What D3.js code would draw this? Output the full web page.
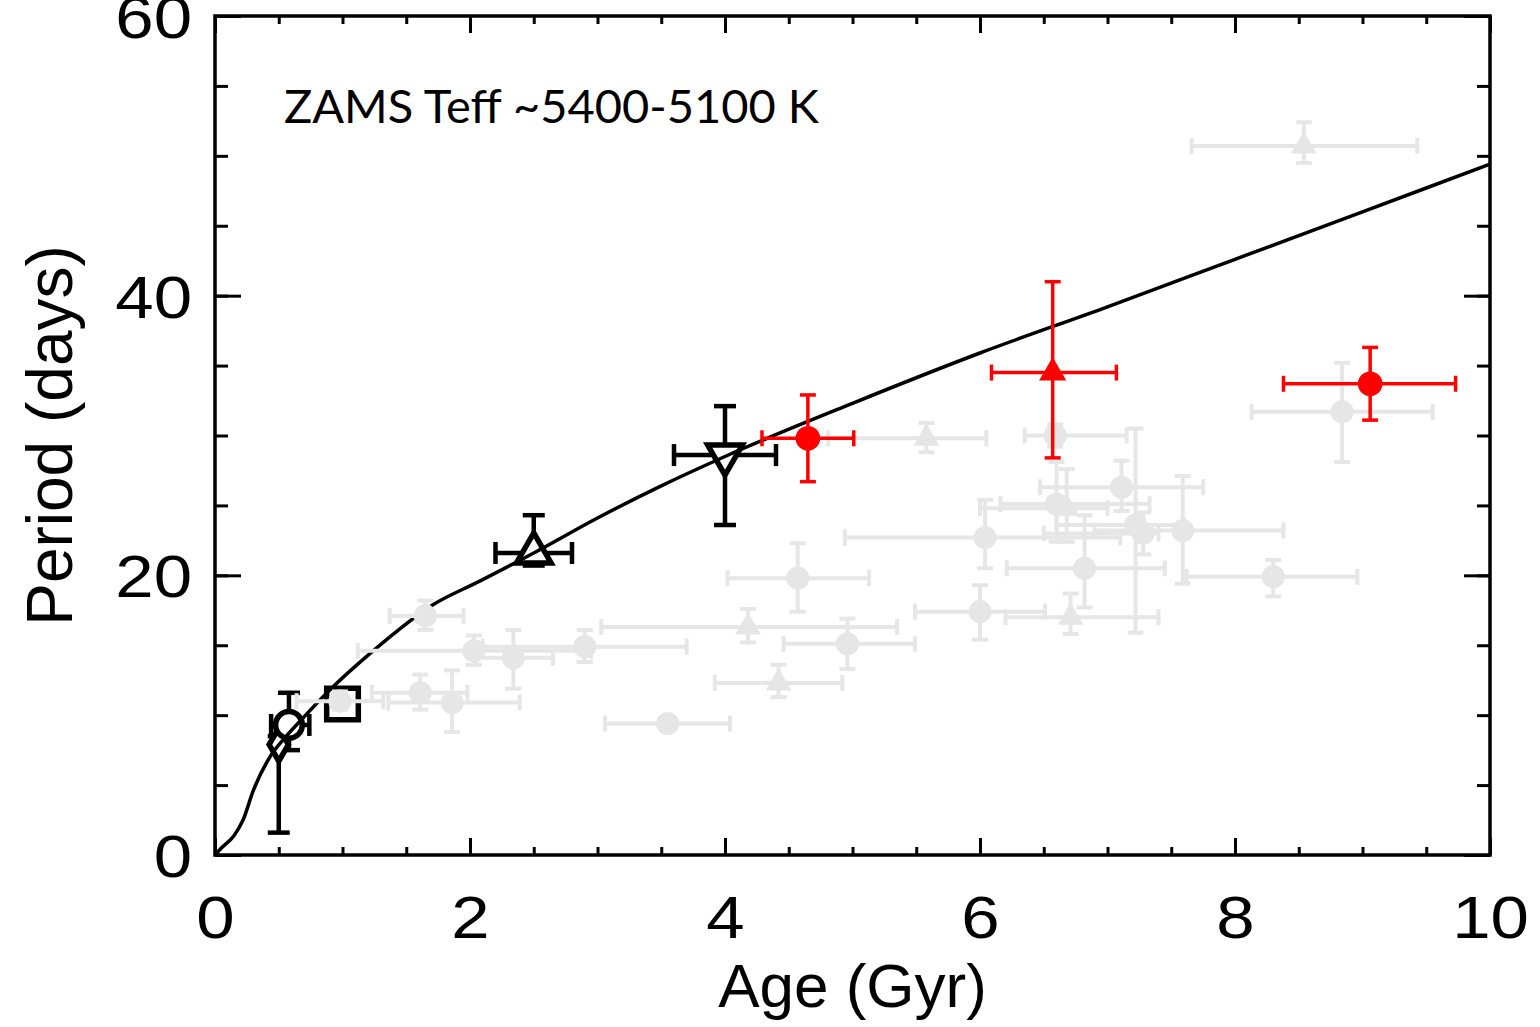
<!DOCTYPE html>
<html>
<head>
<meta charset="utf-8">
<script src="https://cdn.jsdelivr.net/npm/d3@7"></script>
<style>
  body { margin: 0; background: #fff; }
  svg { display: block; }
</style>
</head>
<body>
<svg id="chart" width="1540" height="1027"></svg>
<script>
// ---- data ----
// model curve (age in Gyr, period in days)
const curveAge = [0, 0.05, 0.15, 0.22, 0.3, 0.43, 0.55, 0.67, 0.9, 1.24, 1.71, 2.08, 2.5, 3.0, 3.5, 4.0, 5.0, 6.0, 7.0, 8.0, 9.0, 10.0];
const curveP   = [0, 0.5, 1.4, 2.5, 4.6, 7.0, 8.4, 9.6, 11.8, 14.6, 17.9, 19.6, 21.6, 24.1, 26.4, 28.5, 32.3, 35.9, 39.2, 42.6, 46.0, 49.4];

// grey comparison stars
const grayShape = ["circle","circle","circle","circle","circle","circle","circle","triangle","circle","triangle","circle","triangle","circle","circle","triangle","circle","circle","circle","circle","circle","circle","circle","triangle","circle","circle","triangle","circle"];
const grayAge   = [1.65, 2.03, 2.34, 2.90, 1.61, 1.86, 0.98, 4.18, 4.57, 4.42, 4.96, 5.58, 3.55, 6.59, 6.68, 6.60, 7.11, 6.04, 7.22, 7.28, 7.59, 6.82, 6.71, 6.00, 8.84, 8.54, 8.30];
const grayP     = [17.1, 14.6, 14.1, 14.9, 11.6, 10.9, 11.0, 16.3, 19.8, 12.3, 15.1, 29.8, 9.4, 30.0, 24.8, 25.1, 26.3, 22.7, 23.6, 23.0, 23.2, 20.5, 17.0, 17.4, 31.7, 50.7, 19.9];
const grayAgeLo = [1.37, 1.12, 2.05, 2.10, 1.23, 1.36, 0.64, 3.03, 4.02, 3.92, 4.46, 4.81, 3.06, 6.35, 6.00, 6.16, 6.47, 4.94, 6.60, 6.50, 6.90, 6.21, 6.20, 5.49, 8.13, 7.66, 7.62];
const grayAgeHi = [1.95, 2.95, 2.65, 3.70, 1.98, 2.39, 1.32, 5.35, 5.13, 4.92, 5.49, 6.05, 4.04, 7.15, 7.00, 7.33, 7.75, 7.10, 7.60, 7.40, 8.38, 7.45, 7.40, 6.51, 9.55, 9.43, 8.96];
const grayPLo   = [16.1, 13.6, 11.9, 13.8, 10.4, 8.8, 10.4, 15.2, 17.4, 11.3, 13.3, 28.8, 9.0, 29.2, 22.4, 22.4, 24.6, 20.5, 15.9, 21.5, 19.4, 17.7, 15.8, 15.4, 28.1, 49.5, 18.5];
const grayPHi   = [18.2, 15.7, 16.1, 16.1, 12.9, 13.2, 11.7, 17.6, 22.3, 13.6, 16.9, 30.9, 9.8, 30.8, 27.6, 28.1, 28.2, 25.4, 30.5, 24.5, 27.1, 24.3, 18.7, 19.3, 35.2, 52.4, 21.1];

// open black reference points (clusters)
const blackShape = ["diamond", "circle", "square", "triangle", "triangleDown"];
const blackAge   = [0.50, 0.58, 1.00, 2.50, 4.00];
const blackP     = [7.9, 9.3, 10.8, 21.6, 28.6];
const blackAgeLo = [0.50, 0.44, 0.93, 2.20, 3.60];
const blackAgeHi = [0.50, 0.74, 1.07, 2.80, 4.40];
const blackPLo   = [1.6, 7.5, 10.2, 20.7, 23.6];
const blackPHi   = [8.5, 11.6, 11.5, 24.3, 32.1];

// red highlighted stars
const redShape = ["circle", "triangle", "circle"];
const redAge   = [4.65, 6.57, 9.06];
const redP     = [29.8, 34.5, 33.7];
const redAgeLo = [4.29, 6.09, 8.38];
const redAgeHi = [5.01, 7.07, 9.73];
const redPLo   = [26.7, 28.4, 31.1];
const redPHi   = [32.9, 41.0, 36.3];

const xTicks = [0, 2, 4, 6, 8, 10];
const yTicks = [0, 20, 40, 60];

// ---- layout ----
const svg = d3.select('#chart');
const margin = {top: 16, right: 50, bottom: 172, left: 215};
const innerWidth = 1540 - margin.left - margin.right;
const innerHeight = 1027 - margin.top - margin.bottom;

const g = svg.append('g').attr('transform', `translate(${margin.left}, ${margin.top})`);

const xScale = d3.scaleLinear().domain([0, 10]).range([0, innerWidth]);
const yScale = d3.scaleLinear().domain([0, 60]).range([innerHeight, 0]);

const GRAY = "#e6e6e6", RED = "#ff0000";

function rows(shape, age, p, alo, ahi, plo, phi) {
    return shape.map((s, i) => ({shape: s, age: age[i], p: p[i], alo: alo[i], ahi: ahi[i], plo: plo[i], phi: phi[i]}));
}
const grayData = rows(grayShape, grayAge, grayP, grayAgeLo, grayAgeHi, grayPLo, grayPHi);
const blackData = rows(blackShape, blackAge, blackP, blackAgeLo, blackAgeHi, blackPLo, blackPHi);
const redData = rows(redShape, redAge, redP, redAgeLo, redAgeHi, redPLo, redPHi);

function drawErrors(layer, data, color, width, cap) {
    const eg = layer.append('g').attr('stroke', color).attr('stroke-width', width).attr('fill', 'none');
    data.forEach(d => {
        const cx = xScale(d.age), cy = yScale(d.p);
        if (d.ahi > d.alo) {
            eg.append('line').attr('x1', xScale(d.alo)).attr('x2', xScale(d.ahi)).attr('y1', cy).attr('y2', cy);
            eg.append('line').attr('x1', xScale(d.alo)).attr('x2', xScale(d.alo)).attr('y1', cy - cap/2).attr('y2', cy + cap/2);
            eg.append('line').attr('x1', xScale(d.ahi)).attr('x2', xScale(d.ahi)).attr('y1', cy - cap/2).attr('y2', cy + cap/2);
        }
        if (d.phi > d.plo) {
            eg.append('line').attr('x1', cx).attr('x2', cx).attr('y1', yScale(d.plo)).attr('y2', yScale(d.phi));
            eg.append('line').attr('x1', cx - cap/2).attr('x2', cx + cap/2).attr('y1', yScale(d.plo)).attr('y2', yScale(d.plo));
            eg.append('line').attr('x1', cx - cap/2).attr('x2', cx + cap/2).attr('y1', yScale(d.phi)).attr('y2', yScale(d.phi));
        }
    });
}

const symbolType = {
    circle: d3.symbolCircle, triangle: d3.symbolTriangle, triangleDown: d3.symbolTriangle,
    square: d3.symbolSquare, diamond: d3.symbolDiamond
};

function drawMarkers(layer, data, sizes, fill, stroke, sw) {
    layer.append('g').selectAll('path')
        .data(data)
        .join('path')
        .attr('transform', d => `translate(${xScale(d.age)}, ${yScale(d.p)})` + (d.shape === 'triangleDown' ? ' rotate(180)' : ''))
        .attr('d', d => d3.symbol().type(symbolType[d.shape]).size(sizes[d.shape])())
        .attr('fill', fill)
        .attr('stroke', stroke)
        .attr('stroke-width', sw);
}

// black open cluster points (drawn first, others sit on top)
drawErrors(g, blackData, 'black', 4.5, 22);
drawMarkers(g, blackData, {circle: 560, square: 1000, triangle: 520, triangleDown: 520, diamond: 320}, 'white', 'black', 5.5);

// model curve
g.append('path')
    .datum(curveAge.map((a, i) => [a, curveP[i]]))
    .attr('fill', 'none')
    .attr('stroke', 'black')
    .attr('stroke-width', 3.5)
    .attr('d', d3.line().x(d => xScale(d[0])).y(d => yScale(d[1])).curve(d3.curveMonotoneX));

// grey comparison stars
drawErrors(g, grayData, GRAY, 4, 16);
drawMarkers(g, grayData, {circle: 420, triangle: 290}, GRAY, 'none', 0);

// red stars
drawErrors(g, redData, RED, 3.5, 16);
drawMarkers(g, redData, {circle: 480, triangle: 320}, RED, 'none', 0);

// ---- axes: IDL-style inward ticks on all four sides ----
const minorX = d3.range(0, 10.001, 0.5);
const minorY = d3.range(0, 60.001, 5);
const noLabel = () => '';

g.append('g').attr('transform', `translate(0, ${innerHeight})`)
    .call(d3.axisBottom(xScale).tickValues(minorX).tickSize(-8).tickSizeOuter(0).tickFormat(noLabel));
g.append('g').call(d3.axisTop(xScale).tickValues(minorX).tickSize(-8).tickSizeOuter(0).tickFormat(noLabel));
g.append('g').call(d3.axisLeft(yScale).tickValues(minorY).tickSize(-13).tickSizeOuter(0).tickFormat(noLabel));
g.append('g').attr('transform', `translate(${innerWidth}, 0)`)
    .call(d3.axisRight(yScale).tickValues(minorY).tickSize(-13).tickSizeOuter(0).tickFormat(noLabel));

const xAxis = g.append('g').attr('transform', `translate(0, ${innerHeight})`)
    .call(d3.axisBottom(xScale).tickValues(xTicks).tickSize(-17).tickSizeOuter(0).tickPadding(40).tickFormat(d3.format('d')));
g.append('g').call(d3.axisTop(xScale).tickValues(xTicks).tickSize(-17).tickSizeOuter(0).tickFormat(noLabel));
const yAxis = g.append('g')
    .call(d3.axisLeft(yScale).tickValues(yTicks).tickSize(-26).tickSizeOuter(0).tickPadding(20).tickFormat(d3.format('d')));
g.append('g').attr('transform', `translate(${innerWidth}, 0)`)
    .call(d3.axisRight(yScale).tickValues(yTicks).tickSize(-26).tickSizeOuter(0).tickFormat(noLabel));

g.selectAll('.tick line').attr('stroke', 'black').attr('stroke-width', 3);
g.selectAll('.domain').remove();

xAxis.selectAll('text')
    .attr('font-family', 'Liberation Sans, Arial, sans-serif')
    .attr('font-size', 60)
    .attr('fill', 'black')
    .attr('transform', 'scale(1.15, 1)');
yAxis.selectAll('text')
    .attr('font-family', 'Liberation Sans, Arial, sans-serif')
    .attr('font-size', 60)
    .attr('fill', 'black')
    .attr('dy', '0.36em')
    .attr('transform', 'scale(1.15, 1)');

// frame
g.append('rect')
    .attr('width', innerWidth)
    .attr('height', innerHeight)
    .attr('fill', 'none')
    .attr('stroke', 'black')
    .attr('stroke-width', 3.5);

// axis titles
svg.append('text')
    .attr('x', margin.left + innerWidth / 2)
    .attr('y', 1007)
    .attr('text-anchor', 'middle')
    .attr('font-family', 'Liberation Sans, Arial, sans-serif')
    .attr('font-size', 62)
    .attr('fill', 'black')
    .text('Age (Gyr)');

svg.append('text')
    .attr('transform', `translate(72, ${margin.top + innerHeight / 2}) rotate(-90)`)
    .attr('text-anchor', 'middle')
    .attr('font-family', 'Liberation Sans, Arial, sans-serif')
    .attr('font-size', 64)
    .attr('fill', 'black')
    .text('Period (days)');

// annotation
svg.append('text')
    .attr('x', 284)
    .attr('y', 123)
    .attr('font-family', 'Lato, Open Sans, sans-serif')
    .attr('font-size', 47)
    .attr('fill', 'black')
    .text('ZAMS Teff ~5400-5100 K');
</script>
</body>
</html>
